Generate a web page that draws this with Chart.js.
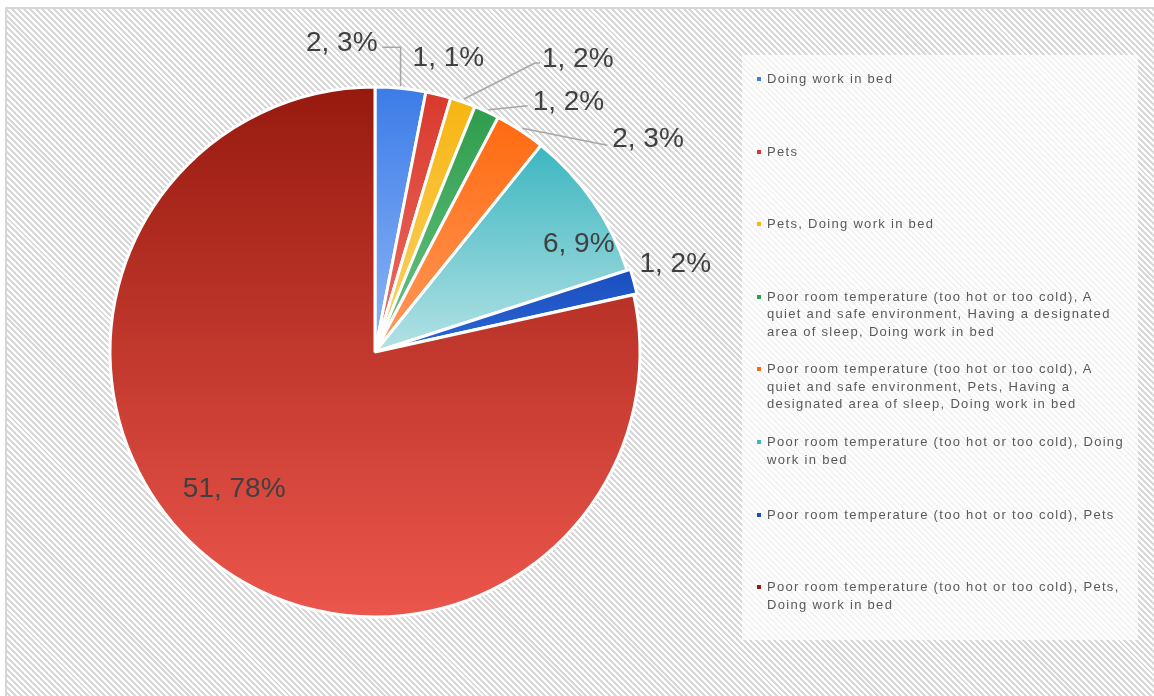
<!DOCTYPE html>
<html>
<head>
<meta charset="utf-8">
<script src="https://cdn.jsdelivr.net/npm/chart.js@4.4.0/dist/chart.umd.min.js"></script>
<style>
  html, body { margin: 0; padding: 0; background: #fff; }
  body { width: 1154px; height: 696px; position: relative; overflow: hidden; font-family: "Liberation Sans", Arial, sans-serif; }
  #frame {
    position: absolute; left: 5px; top: 7px; width: 1160px; height: 700px;
    border-left: 2px solid #d6d6d6; border-top: 2px solid #d6d6d6;
    background: repeating-linear-gradient(45deg, #ffffff 0px, #ffffff 2.1px, #d8d8d8 2.1px, #d8d8d8 4.2px);
  }
  #wrap { position: absolute; left: 0; top: 0; width: 1154px; height: 696px; }
  #legend {
    position: absolute; left: 742px; top: 55px; width: 396px; height: 585px;
    background: rgba(255, 255, 255, 0.72);
  }
  .item { position: absolute; left: 15px; width: 380px; }
  .mark { position: absolute; left: 0; top: 7px; width: 4px; height: 4px; }
  .txt {
    position: absolute; left: 10px; top: 0; width: 362px;
    font-size: 13px; line-height: 17.5px; letter-spacing: 1.3px; color: #595959;
  }
</style>
</head>
<body>
<div id="frame"></div>
<div id="wrap"><canvas id="myChart"></canvas></div>
<div id="legend"></div>
<script>
// categories and values
var categories = [
    'Doing work in bed',
    'Pets',
    'Pets, Doing work in bed',
    'Poor room temperature (too hot or too cold), A quiet and safe environment, Having a designated area of sleep, Doing work in bed',
    'Poor room temperature (too hot or too cold), A quiet and safe environment, Pets, Having a designated area of sleep, Doing work in bed',
    'Poor room temperature (too hot or too cold), Doing work in bed',
    'Poor room temperature (too hot or too cold), Pets',
    'Poor room temperature (too hot or too cold), Pets, Doing work in bed'
];
var counts = [2, 1, 1, 1, 2, 6, 1, 51];
var percents = [3, 1, 2, 2, 3, 9, 2, 78];

// top / bottom gradient colours of each slice
var sliceColors = [
    ['#3c7ce8', '#8fb6f5'],
    ['#d9392d', '#ef6f64'],
    ['#f6b511', '#fcd36a'],
    ['#2e9d4c', '#6cc487'],
    ['#ff6a10', '#ff9a5c'],
    ['#3db6c0', '#b3e2e5'],
    ['#1a4ebd', '#2c66d6'],
    ['#971a0f', '#ec564c']
];

// where each data label sits (layout only)
var labelSpots = [
    { dx: -23, dy: -46, align: 'right', leader: 'up' },
    { dx: 10, dy: -37, align: 'center' },
    { dx: 79, dy: -44, align: 'left', leader: 'elbow' },
    { dx: 46, dy: -10, align: 'left', leader: 'line', ly: 4 },
    { dx: 92, dy: 8, align: 'left', leader: 'line', ly: 7 },
    { inside: true, frac: 0.87, dx: 14, dy: 22 },
    { dx: 2, dy: -17, align: 'left' },
    { inside: true, frac: 0.74, dx: -18, dy: -17 }
];

var RADIUS = 265;

function sliceFill(ctx) {
    var chart = ctx.chart, i = ctx.dataIndex;
    var area = chart.chartArea;
    if (!area) return sliceColors[i][0];
    var cy = (area.top + area.bottom) / 2;
    var total = counts.reduce(function (a, b) { return a + b; }, 0);
    var before = 0;
    for (var k = 0; k < i; k++) before += counts[k];
    var a0 = before / total * 2 * Math.PI;
    var a1 = (before + counts[i]) / total * 2 * Math.PI;
    var ys = [cy, cy - RADIUS * Math.cos(a0), cy - RADIUS * Math.cos(a1)];
    if (a0 <= Math.PI && a1 >= Math.PI) ys.push(cy + RADIUS);
    if (a0 <= 0 || a1 >= 2 * Math.PI - 1e-6) ys.push(cy - RADIUS);
    var g = chart.ctx.createLinearGradient(0, Math.min.apply(null, ys), 0, Math.max.apply(null, ys));
    g.addColorStop(0, sliceColors[i][0]);
    g.addColorStop(1, sliceColors[i][1]);
    return g;
}

var sliceLabels = {
    id: 'sliceLabels',
    afterDatasetsDraw: function (chart) {
        var c = chart.ctx;
        var meta = chart.getDatasetMeta(0);
        c.save();
        c.font = '28px "Liberation Sans", Arial, sans-serif';
        c.fillStyle = '#404040';
        c.strokeStyle = '#a6a6a6';
        c.lineWidth = 1.5;
        c.textBaseline = 'middle';
        meta.data.forEach(function (arc, i) {
            var p = arc.getProps(['x', 'y', 'startAngle', 'endAngle', 'outerRadius'], true);
            var mid = (p.startAngle + p.endAngle) / 2;
            var off = arc.options.offset || 0;
            var s = labelSpots[i];
            var text = counts[i] + ', ' + percents[i] + '%';
            var tx, ty;
            if (s.inside) {
                tx = p.x + Math.cos(mid) * p.outerRadius * s.frac + s.dx;
                ty = p.y + Math.sin(mid) * p.outerRadius * s.frac + s.dy;
                c.textAlign = 'center';
            } else {
                var ax = p.x + Math.cos(mid) * (p.outerRadius + off);
                var ay = p.y + Math.sin(mid) * (p.outerRadius + off);
                tx = ax + s.dx;
                ty = ay + s.dy;
                c.textAlign = s.align;
                if (s.leader) {
                    c.beginPath();
                    if (s.leader === 'up') {
                        c.moveTo(ax, ay - 2);
                        c.lineTo(ax, ty + 5);
                        c.lineTo(tx + 5, ty + 5);
                    } else if (s.leader === 'elbow') {
                        c.moveTo(ax + 1, ay - 3);
                        c.lineTo(tx - 7, ty + 5);
                        c.lineTo(tx - 2, ty + 5);
                    } else {
                        c.moveTo(ax + 2, ay - 2);
                        c.lineTo(tx - 5, ty + s.ly);
                    }
                    c.stroke();
                }
            }
            c.fillText(text, tx, ty + 1);
        });
        c.restore();
    }
};

var ctx = document.getElementById('myChart').getContext('2d');
var myChart = new Chart(ctx, {
    type: 'pie',
    data: {
        labels: categories,
        datasets: [{
            data: counts,
            backgroundColor: sliceFill,
            borderColor: '#ffffff',
            borderWidth: 3,
            offset: [0, 0, 0, 0, 0, 0, 7, 0]
        }]
    },
    options: {
        responsive: true,
        maintainAspectRatio: false,
        animation: false,
        radius: RADIUS,
        layout: { padding: { left: 110, right: 514, top: 87, bottom: 79 } },
        plugins: {
            legend: { display: false },
            tooltip: { enabled: false }
        }
    },
    plugins: [sliceLabels]
});

// legend on the right, built from the same arrays
var legend = document.getElementById('legend');
categories.forEach(function (name, i) {
    var item = document.createElement('div');
    item.className = 'item';
    item.style.top = (15 + i * 72.6) + 'px';
    var mark = document.createElement('div');
    mark.className = 'mark';
    mark.style.background = sliceColors[i][0];
    var txt = document.createElement('div');
    txt.className = 'txt';
    txt.textContent = name;
    item.appendChild(mark);
    item.appendChild(txt);
    legend.appendChild(item);
});
</script>
</body>
</html>
